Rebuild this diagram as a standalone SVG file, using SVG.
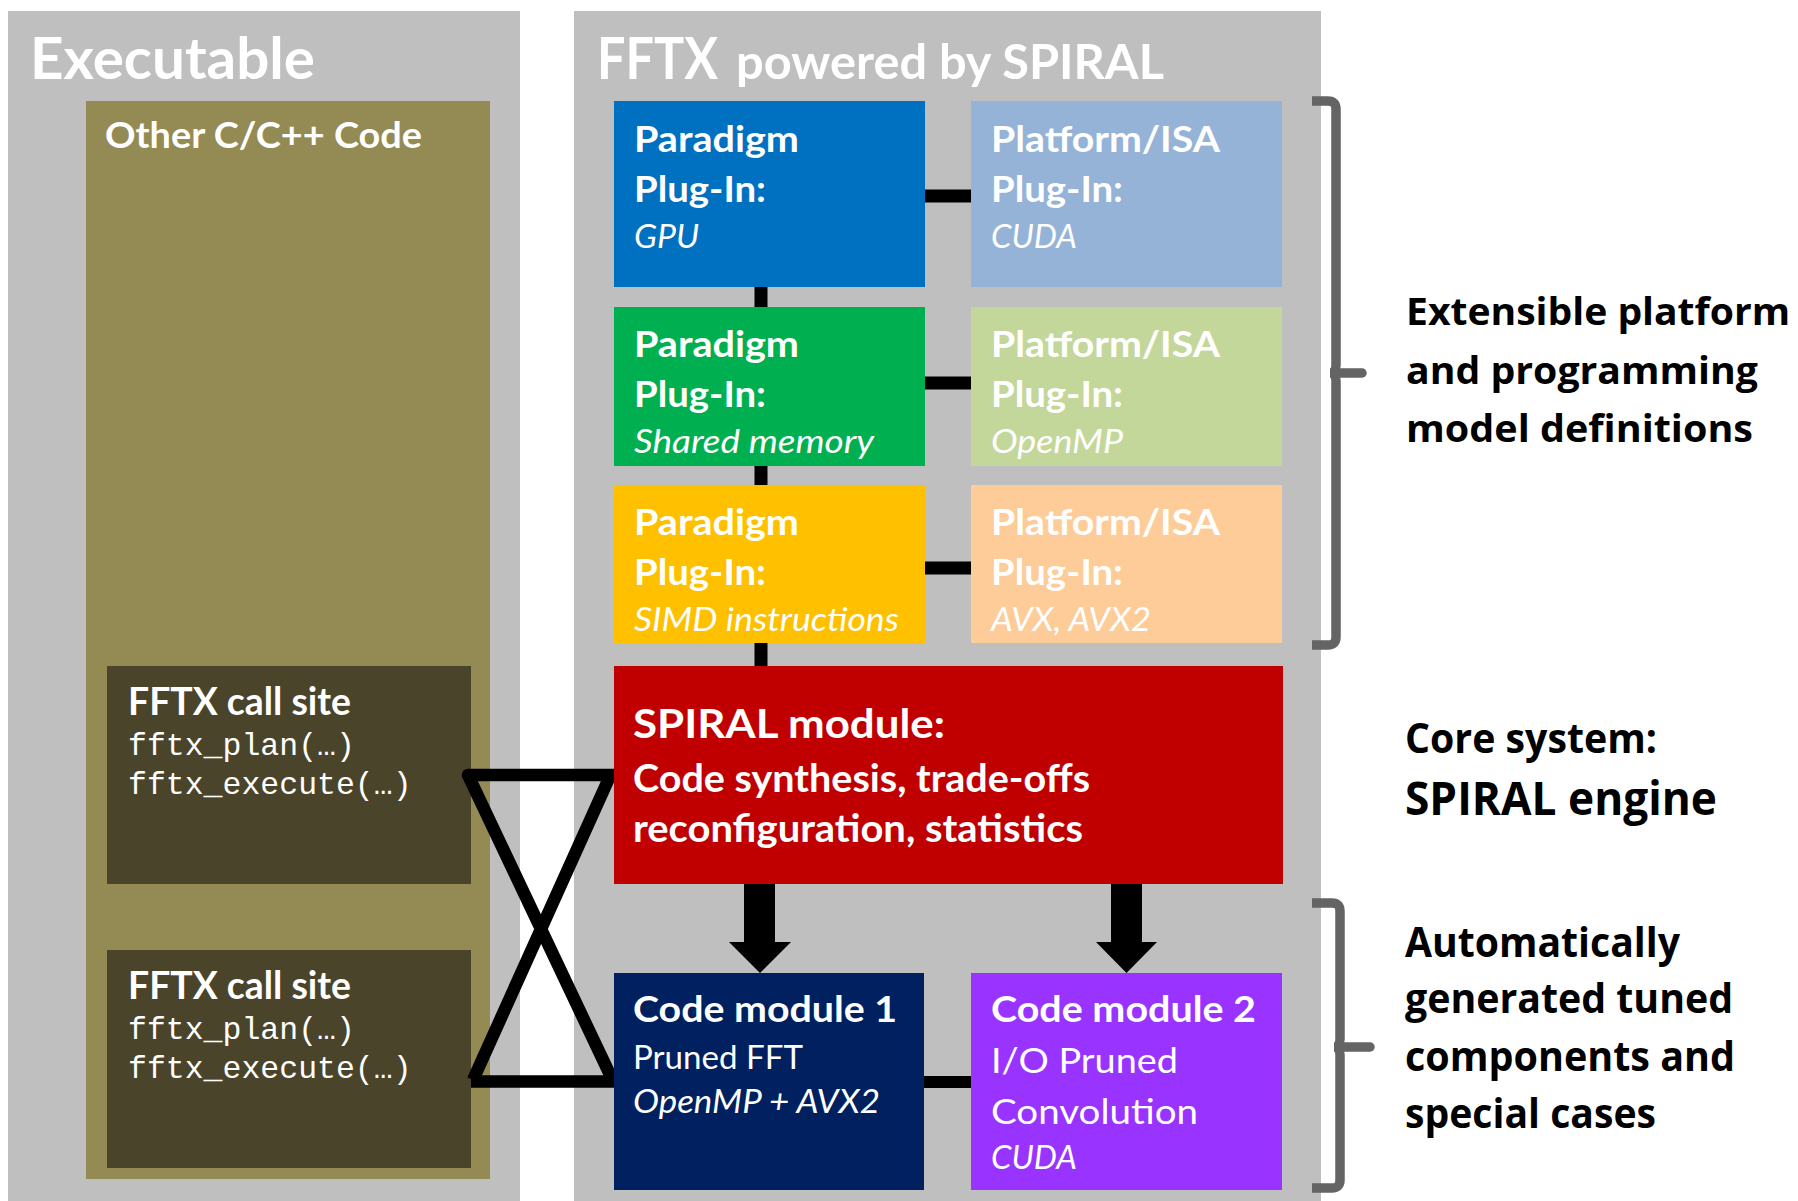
<svg xmlns="http://www.w3.org/2000/svg" width="1798" height="1201" viewBox="0 0 1798 1201">
<style>
text{font-family:Lato,"Open Sans","Liberation Sans",sans-serif;fill:#fff}
.b{font-weight:bold}
.i{font-style:italic}
.h1{font-size:57px;font-weight:bold}
.h2{font-size:48px;font-weight:bold}
.t36{font-size:36px;font-weight:bold}
.it{font-size:32px;font-style:italic}
.mono{font-family:"Liberation Mono","Courier New",monospace;font-size:31.5px;fill:#fff}
.side{fill:#000;font-weight:bold;font-family:"Open Sans",Lato,sans-serif}
.conn{stroke:#000;fill:none}
.brk{stroke:#646464;stroke-width:9.5;fill:none}
</style>
<rect width="1798" height="1201" fill="#fff"/>
<g id="executable">
<rect x="8" y="11" width="512" height="1190" fill="#bfbfbf"/>
<text x="30" y="79" class="h1" textLength="285" lengthAdjust="spacingAndGlyphs">Executable</text>
</g>
<g id="other-code">
<rect x="86" y="101" width="404" height="1078" fill="#948a54"/>
<text x="105" y="148" class="t36" textLength="317" lengthAdjust="spacingAndGlyphs">Other C/C++ Code</text>
</g>
<g id="callsite1">
<rect x="107" y="666" width="364" height="218" fill="#4a452a"/>
<text x="128" y="715" class="b" font-size="37.5" textLength="223" lengthAdjust="spacingAndGlyphs">FFTX call site</text>
<text x="128" y="755" class="mono">fftx_plan(…)</text>
<text x="128" y="794" class="mono">fftx_execute(…)</text>
</g>
<g id="callsite2">
<rect x="107" y="950" width="364" height="218" fill="#4a452a"/>
<text x="128" y="999" class="b" font-size="37.5" textLength="223" lengthAdjust="spacingAndGlyphs">FFTX call site</text>
<text x="128" y="1039" class="mono">fftx_plan(…)</text>
<text x="128" y="1078" class="mono">fftx_execute(…)</text>
</g>
<g id="fftx">
<rect x="574" y="11" width="747" height="1190" fill="#bfbfbf"/>
<text x="597" y="79" class="h1" textLength="121" lengthAdjust="spacingAndGlyphs">FFTX</text>
<text x="736" y="79" class="h2" textLength="428" lengthAdjust="spacingAndGlyphs">powered by SPIRAL</text>
</g>
<g id="connectors">
<g fill="#000">
<rect x="754.5" y="287" width="13" height="20"/>
<rect x="754.5" y="466" width="13" height="19"/>
<rect x="754.5" y="643" width="13" height="23"/>
<rect x="925" y="189.5" width="46" height="13"/>
<rect x="925" y="376.5" width="46" height="13"/>
<rect x="925" y="561.5" width="46" height="13"/>
<rect x="924" y="1076" width="47" height="12"/>
<polygon points="744,884 775,884 775,942 791,942 760,973 729,942 744,942"/>
<polygon points="1111,884 1142,884 1142,942 1157,942 1126.5,973 1096,942 1111,942"/>
</g>
<path class="conn" stroke-width="12.5" stroke-linejoin="round" d="M614 775 L468 775 L613 1081 M471 1081.5 H618 M610 776 L473 1080"/>
</g>
<g id="gpu">
<rect x="614" y="101" width="311" height="186" fill="#0070c0"/>
<text x="634" y="152" class="t36" textLength="165" lengthAdjust="spacingAndGlyphs">Paradigm</text>
<text x="634" y="202" class="t36" textLength="132" lengthAdjust="spacingAndGlyphs">Plug-In:</text>
<text x="634" y="248" class="it" textLength="65" lengthAdjust="spacingAndGlyphs">GPU</text>
</g>
<g id="cuda">
<rect x="971" y="101" width="311" height="186" fill="#95b3d7"/>
<text x="991" y="152" class="t36" textLength="229" lengthAdjust="spacingAndGlyphs">Platform/ISA</text>
<text x="991" y="202" class="t36" textLength="132" lengthAdjust="spacingAndGlyphs">Plug-In:</text>
<text x="991" y="248" class="it" textLength="86" lengthAdjust="spacingAndGlyphs">CUDA</text>
</g>
<g id="shared">
<rect x="614" y="307" width="311" height="159" fill="#00b050"/>
<text x="634" y="357" class="t36" textLength="165" lengthAdjust="spacingAndGlyphs">Paradigm</text>
<text x="634" y="407" class="t36" textLength="132" lengthAdjust="spacingAndGlyphs">Plug-In:</text>
<text x="634" y="453" class="it" textLength="240" lengthAdjust="spacingAndGlyphs">Shared memory</text>
</g>
<g id="openmp">
<rect x="971" y="307" width="311" height="159" fill="#c4d79b"/>
<text x="991" y="357" class="t36" textLength="229" lengthAdjust="spacingAndGlyphs">Platform/ISA</text>
<text x="991" y="407" class="t36" textLength="132" lengthAdjust="spacingAndGlyphs">Plug-In:</text>
<text x="991" y="453" class="it" textLength="132" lengthAdjust="spacingAndGlyphs">OpenMP</text>
</g>
<g id="simd">
<rect x="614" y="485" width="311" height="158" fill="#ffc000"/>
<text x="634" y="535" class="t36" textLength="165" lengthAdjust="spacingAndGlyphs">Paradigm</text>
<text x="634" y="585" class="t36" textLength="132" lengthAdjust="spacingAndGlyphs">Plug-In:</text>
<text x="634" y="631" class="it" textLength="265" lengthAdjust="spacingAndGlyphs">SIMD instructions</text>
</g>
<g id="avx">
<rect x="971" y="485" width="311" height="158" fill="#fdcc98"/>
<text x="991" y="535" class="t36" textLength="229" lengthAdjust="spacingAndGlyphs">Platform/ISA</text>
<text x="991" y="585" class="t36" textLength="132" lengthAdjust="spacingAndGlyphs">Plug-In:</text>
<text x="991" y="631" class="it" textLength="160" lengthAdjust="spacingAndGlyphs">AVX, AVX2</text>
</g>
<g id="spiral">
<rect x="614" y="666" width="669" height="218" fill="#c00000"/>
<text x="633" y="738" class="b" font-size="40" textLength="312" lengthAdjust="spacingAndGlyphs">SPIRAL module:</text>
<text x="633" y="792" class="b" font-size="37.5" textLength="457" lengthAdjust="spacingAndGlyphs">Code synthesis, trade-offs</text>
<text x="633" y="842" class="b" font-size="37.5" textLength="450" lengthAdjust="spacingAndGlyphs">reconfiguration, statistics</text>
</g>
<g id="module1">
<rect x="614" y="973" width="310" height="217" fill="#002060"/>
<text x="633" y="1022" class="t36" textLength="264" lengthAdjust="spacingAndGlyphs">Code module 1</text>
<text x="633" y="1069" font-size="33" textLength="170" lengthAdjust="spacingAndGlyphs">Pruned FFT</text>
<text x="633" y="1113" class="i" font-size="32" textLength="247" lengthAdjust="spacingAndGlyphs">OpenMP + AVX2</text>
</g>
<g id="module2">
<rect x="971" y="973" width="311" height="217" fill="#9933ff"/>
<text x="991" y="1022" class="t36" textLength="265" lengthAdjust="spacingAndGlyphs">Code module 2</text>
<text x="991" y="1073" font-size="35" textLength="187" lengthAdjust="spacingAndGlyphs">I/O Pruned</text>
<text x="991" y="1124" font-size="35" textLength="207" lengthAdjust="spacingAndGlyphs">Convolution</text>
<text x="991" y="1169" class="i" font-size="32" textLength="86" lengthAdjust="spacingAndGlyphs">CUDA</text>
</g>
<g id="bracket-top">
<path class="brk" d="M1312 101 H1328 Q1336 101 1336 109 V365 Q1336 373 1330 373 Q1336 373 1336 381 V637 Q1336 645 1328 645 H1312"/>
<path class="brk" stroke-linecap="round" d="M1337 373 H1362"/>
<text class="side" x="1406" y="325" font-size="37.5" textLength="384" lengthAdjust="spacingAndGlyphs">Extensible platform</text>
<text class="side" x="1406" y="384" font-size="37.5" textLength="352" lengthAdjust="spacingAndGlyphs">and programming</text>
<text class="side" x="1406" y="442" font-size="37.5" textLength="347" lengthAdjust="spacingAndGlyphs">model definitions</text>
</g>
<g id="core-label">
<text class="side" x="1405" y="753" font-size="41" textLength="252" lengthAdjust="spacingAndGlyphs">Core system:</text>
<text class="side" x="1405" y="815" font-size="46.5" textLength="312" lengthAdjust="spacingAndGlyphs">SPIRAL engine</text>
</g>
<g id="bracket-bottom">
<path class="brk" d="M1312 903 H1332 Q1340 903 1340 911 V1039 Q1340 1047 1334 1047 Q1340 1047 1340 1055 V1180 Q1340 1188 1332 1188 H1312"/>
<path class="brk" stroke-linecap="round" d="M1341 1047 H1370"/>
<text class="side" x="1405" y="957" font-size="42" textLength="275" lengthAdjust="spacingAndGlyphs">Automatically</text>
<text class="side" x="1405" y="1013" font-size="42" textLength="328" lengthAdjust="spacingAndGlyphs">generated tuned</text>
<text class="side" x="1405" y="1071" font-size="42" textLength="330" lengthAdjust="spacingAndGlyphs">components and</text>
<text class="side" x="1405" y="1128" font-size="42" textLength="251" lengthAdjust="spacingAndGlyphs">special cases</text>
</g>
</svg>
